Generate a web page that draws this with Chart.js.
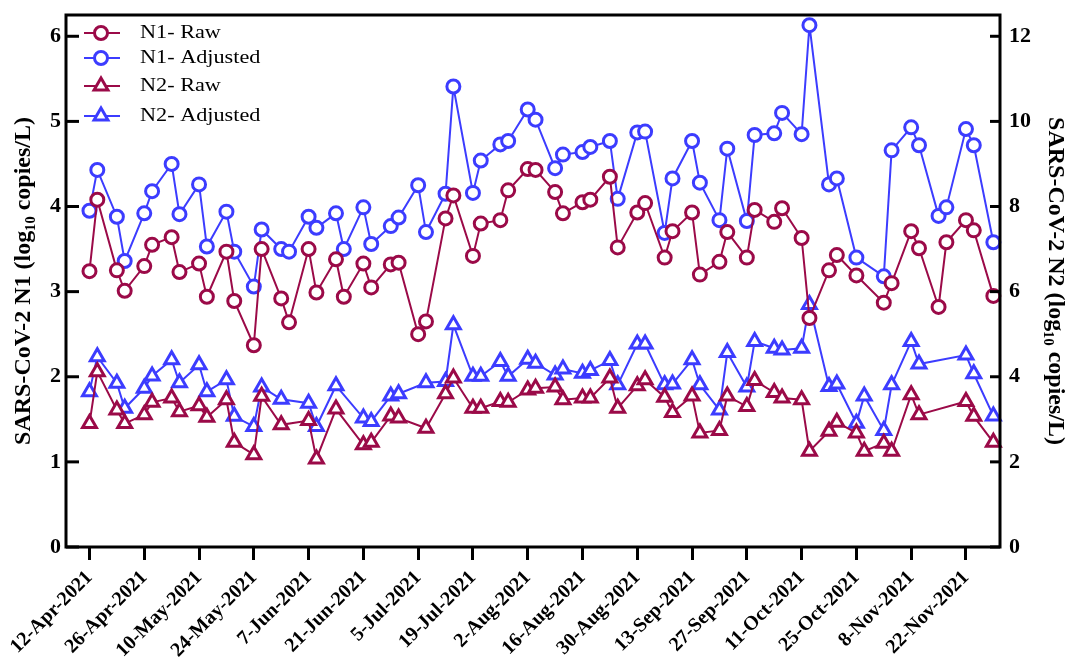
<!DOCTYPE html>
<html>
<head>
<meta charset="utf-8">
<script src="https://cdn.jsdelivr.net/npm/chart.js@4.4.1/dist/chart.umd.min.js"></script>
<style>
html,body{margin:0;padding:0;background:#fff;}
canvas{display:block;}
</style>
</head>
<body>
<canvas id="c" width="1067" height="664"></canvas>
<script>
// ---- data (x = days since 12-Apr-2021) ----
const tickDays = [0,14,28,42,56,70,84,98,112,126,140,154,168,182,196,210,224];
const tickLabels = ['12-Apr-2021','26-Apr-2021','10-May-2021','24-May-2021','7-Jun-2021','21-Jun-2021','5-Jul-2021','19-Jul-2021','2-Aug-2021','16-Aug-2021','30-Aug-2021','13-Sep-2021','27-Sep-2021','11-Oct-2021','25-Oct-2021','8-Nov-2021','22-Nov-2021'];
const leftTicks = [0,1,2,3,4,5,6];
const rightTicks = [0,2,4,6,8,10,12];
const seriesNames = ['N1- Raw','N1- Adjusted','N2- Raw','N2- Adjusted'];

const n1Days = [0,2,7,9,14,16,21,23,28,30,35,37,42,44,49,51,56,58,63,65,70,72,77,79,84,86,91,93,98,100,105,107,112,114,119,121,126,128,133,135,140,142,147,149,154,156,161,163,168,170,175,177,182,184,189,191,196,203,205,210,212,217,219,224,226,231];
const n1Raw = [3.24,4.08,3.25,3.01,3.30,3.55,3.64,3.23,3.33,2.94,3.47,2.89,2.37,3.50,2.92,2.64,3.50,2.99,3.38,2.94,3.33,3.05,3.32,3.34,2.50,2.65,3.86,4.13,3.42,3.80,3.84,4.19,4.44,4.43,4.17,3.92,4.05,4.08,4.35,3.52,3.93,4.04,3.40,3.71,3.93,3.20,3.35,3.70,3.40,3.96,3.82,3.98,3.63,2.69,3.25,3.43,3.19,2.87,3.10,3.71,3.51,2.82,3.58,3.84,3.72,2.95];
const n1Adjusted = [3.95,4.43,3.88,3.36,3.92,4.18,4.50,3.91,4.26,3.53,3.94,3.47,3.06,3.73,3.50,3.47,3.88,3.75,3.92,3.50,3.99,3.56,3.77,3.87,4.25,3.70,4.15,5.41,4.16,4.54,4.73,4.77,5.14,5.02,4.45,4.61,4.64,4.70,4.77,4.09,4.87,4.88,3.69,4.33,4.77,4.28,3.84,4.68,3.83,4.84,4.86,5.10,4.85,6.13,4.26,4.33,3.40,3.18,4.66,4.93,4.72,3.89,3.99,4.91,4.72,3.58];

const n2Days = [0,2,7,9,14,16,21,23,28,30,35,37,42,44,49,56,58,63,70,72,77,79,86,91,93,98,100,105,107,112,114,119,121,126,128,133,135,140,142,147,149,154,156,161,163,168,170,175,177,182,184,189,191,196,198,203,205,210,212,224,226,231];
const n2Raw = [2.90,4.12,3.22,2.90,3.11,3.40,3.50,3.18,3.32,3.05,3.46,2.46,2.17,3.54,2.87,2.97,2.07,3.24,2.40,2.46,3.08,3.03,2.79,3.60,3.97,3.26,3.26,3.42,3.40,3.69,3.73,3.76,3.46,3.50,3.50,3.97,3.26,3.79,3.93,3.52,3.16,3.55,2.68,2.74,3.55,3.30,3.91,3.63,3.50,3.46,2.25,2.72,2.93,2.68,2.25,2.44,2.25,3.58,3.11,3.42,3.07,2.46];
const n2Adjusted = [3.65,4.47,3.85,3.26,3.73,4.02,4.40,3.86,4.28,3.65,3.93,3.07,2.83,3.76,3.47,3.38,2.83,3.79,3.03,2.95,3.55,3.60,3.86,3.89,5.22,4.01,4.01,4.36,4.01,4.41,4.32,4.04,4.18,4.08,4.15,4.38,3.81,4.77,4.77,3.81,3.83,4.40,3.81,3.22,4.57,3.76,4.83,4.67,4.63,4.67,5.70,3.77,3.83,2.91,3.55,2.74,3.81,4.83,4.30,4.51,4.07,3.08];

// ---- styling ----
const RED = '#9b0a48';
const BLUE = '#3c3cff';
const SERIF = "'Liberation Serif','Times New Roman',serif";
const pts = (days, vals) => days.map((d, i) => ({x: d, y: vals[i]}));

function mkSet(label, data, color, style, axis) {
  return {
    label, data, yAxisID: axis,
    borderColor: color, borderWidth: 2,
    pointStyle: style,
    pointRadius: style === 'triangle' ? 8 : 6.5,
    pointBorderWidth: 3,
    pointBorderColor: color,
    pointBackgroundColor: '#ffffff',
    fill: false, tension: 0, clip: false
  };
}

function drawMarker(ctx, style, x, y, r) {
  ctx.beginPath();
  if (style === 'triangle') {
    let rad = 0;
    ctx.moveTo(x + Math.sin(rad) * r, y - Math.cos(rad) * r);
    rad += 2 * Math.PI / 3;
    ctx.lineTo(x + Math.sin(rad) * r, y - Math.cos(rad) * r);
    rad += 2 * Math.PI / 3;
    ctx.lineTo(x + Math.sin(rad) * r, y - Math.cos(rad) * r);
    ctx.closePath();
  } else {
    ctx.arc(x, y, r, 0, Math.PI * 2);
  }
  ctx.fill();
  ctx.stroke();
}

const frameTicks = {
  id: 'frameTicks',
  afterDraw(chart) {
    const {ctx, chartArea: a, scales} = chart;
    ctx.save();
    ctx.strokeStyle = '#000';
    ctx.lineWidth = 3;
    ctx.lineCap = 'butt';
    ctx.strokeRect(a.left, a.top, a.right - a.left, a.bottom - a.top);
    scales.y.ticks.forEach(t => {
      const y = scales.y.getPixelForValue(t.value);
      ctx.beginPath(); ctx.moveTo(a.left, y); ctx.lineTo(a.left + 13, y); ctx.stroke();
    });
    scales.y2.ticks.forEach(t => {
      const y = scales.y2.getPixelForValue(t.value);
      ctx.beginPath(); ctx.moveTo(a.right, y); ctx.lineTo(a.right - 10, y); ctx.stroke();
    });
    ctx.restore();
  }
};

const legendInside = {
  id: 'legendInside',
  afterDraw(chart) {
    const {ctx, chartArea: a} = chart;
    const rows = [18, 43, 71, 101];
    ctx.save();
    chart.data.datasets.forEach((ds, i) => {
      const y = a.top + rows[i];
      const x0 = a.left + 18, x1 = a.left + 54, xm = a.left + 35;
      ctx.strokeStyle = ds.borderColor;
      ctx.lineWidth = 2;
      ctx.beginPath(); ctx.moveTo(x0, y); ctx.lineTo(x1, y); ctx.stroke();
      ctx.fillStyle = '#fff';
      ctx.lineWidth = 3;
      drawMarker(ctx, ds.pointStyle, xm, y, ds.pointRadius);
      ctx.save();
      ctx.translate(a.left + 74, y);
      ctx.scale(1.17, 1);
      ctx.fillStyle = '#000';
      ctx.font = "19px " + SERIF;
      ctx.textBaseline = 'middle';
      ctx.textAlign = 'left';
      ctx.fillText(ds.label, 0, 0);
      ctx.restore();
    });
    ctx.restore();
  }
};

Chart.defaults.color = '#000';
Chart.defaults.font.family = SERIF;

const noPadY = s => { s.paddingTop = 0; s.paddingBottom = 0; };

new Chart(document.getElementById('c'), {
  type: 'line',
  data: {
    datasets: [
      mkSet(seriesNames[0], pts(n1Days, n1Raw), RED, 'circle', 'y'),
      mkSet(seriesNames[1], pts(n1Days, n1Adjusted), BLUE, 'circle', 'y'),
      mkSet(seriesNames[2], pts(n2Days, n2Raw), RED, 'triangle', 'y2'),
      mkSet(seriesNames[3], pts(n2Days, n2Adjusted), BLUE, 'triangle', 'y2')
    ]
  },
  options: {
    responsive: false,
    animation: false,
    layout: {padding: {top: 15, left: 0, right: 0, bottom: 0}},
    plugins: {legend: {display: false}, tooltip: {enabled: false}},
    scales: {
      x: {
        type: 'linear', min: -6, max: 232.7,
        afterBuildTicks: s => { s.ticks = tickDays.map(v => ({value: v})); },
        afterFit: s => { s.height = 117; s.paddingLeft = 0; s.paddingRight = 0; },
        ticks: {
          autoSkip: false, minRotation: 45, maxRotation: 45, padding: 6,
          font: {family: SERIF, weight: 'bold', size: 20},
          callback: v => tickLabels[tickDays.indexOf(v)]
        },
        grid: {display: true, drawOnChartArea: false, drawTicks: true, tickLength: 13, tickWidth: 3, tickColor: '#000'},
        border: {display: false}
      },
      y: {
        position: 'left', min: 0, max: 6.25,
        afterBuildTicks: s => { s.ticks = leftTicks.map(v => ({value: v})); },
        afterFit: s => { s.width = 66; noPadY(s); },
        ticks: {padding: 5, font: {family: SERIF, weight: 'bold', size: 22}},
        grid: {display: false, drawTicks: false},
        border: {display: false},
        title: {display: true, text: 'SARS-CoV-2 N1 (log\u2081\u2080 copies/L)', font: {family: SERIF, weight: 'bold', size: 24, lineHeight: 1}, padding: {top: 12, bottom: 0}}
      },
      y2: {
        position: 'right', min: 0, max: 12.5,
        afterBuildTicks: s => { s.ticks = rightTicks.map(v => ({value: v})); },
        afterFit: s => { s.width = 67; noPadY(s); },
        ticks: {padding: 9, font: {family: SERIF, weight: 'bold', size: 22}},
        grid: {display: false, drawTicks: false},
        border: {display: false},
        title: {display: true, text: 'SARS-CoV-2 N2 (log\u2081\u2080 copies/L)', font: {family: SERIF, weight: 'bold', size: 24, lineHeight: 1}, padding: {top: 0, bottom: 0}}
      }
    }
  },
  plugins: [frameTicks, legendInside]
});
</script>
</body>
</html>
